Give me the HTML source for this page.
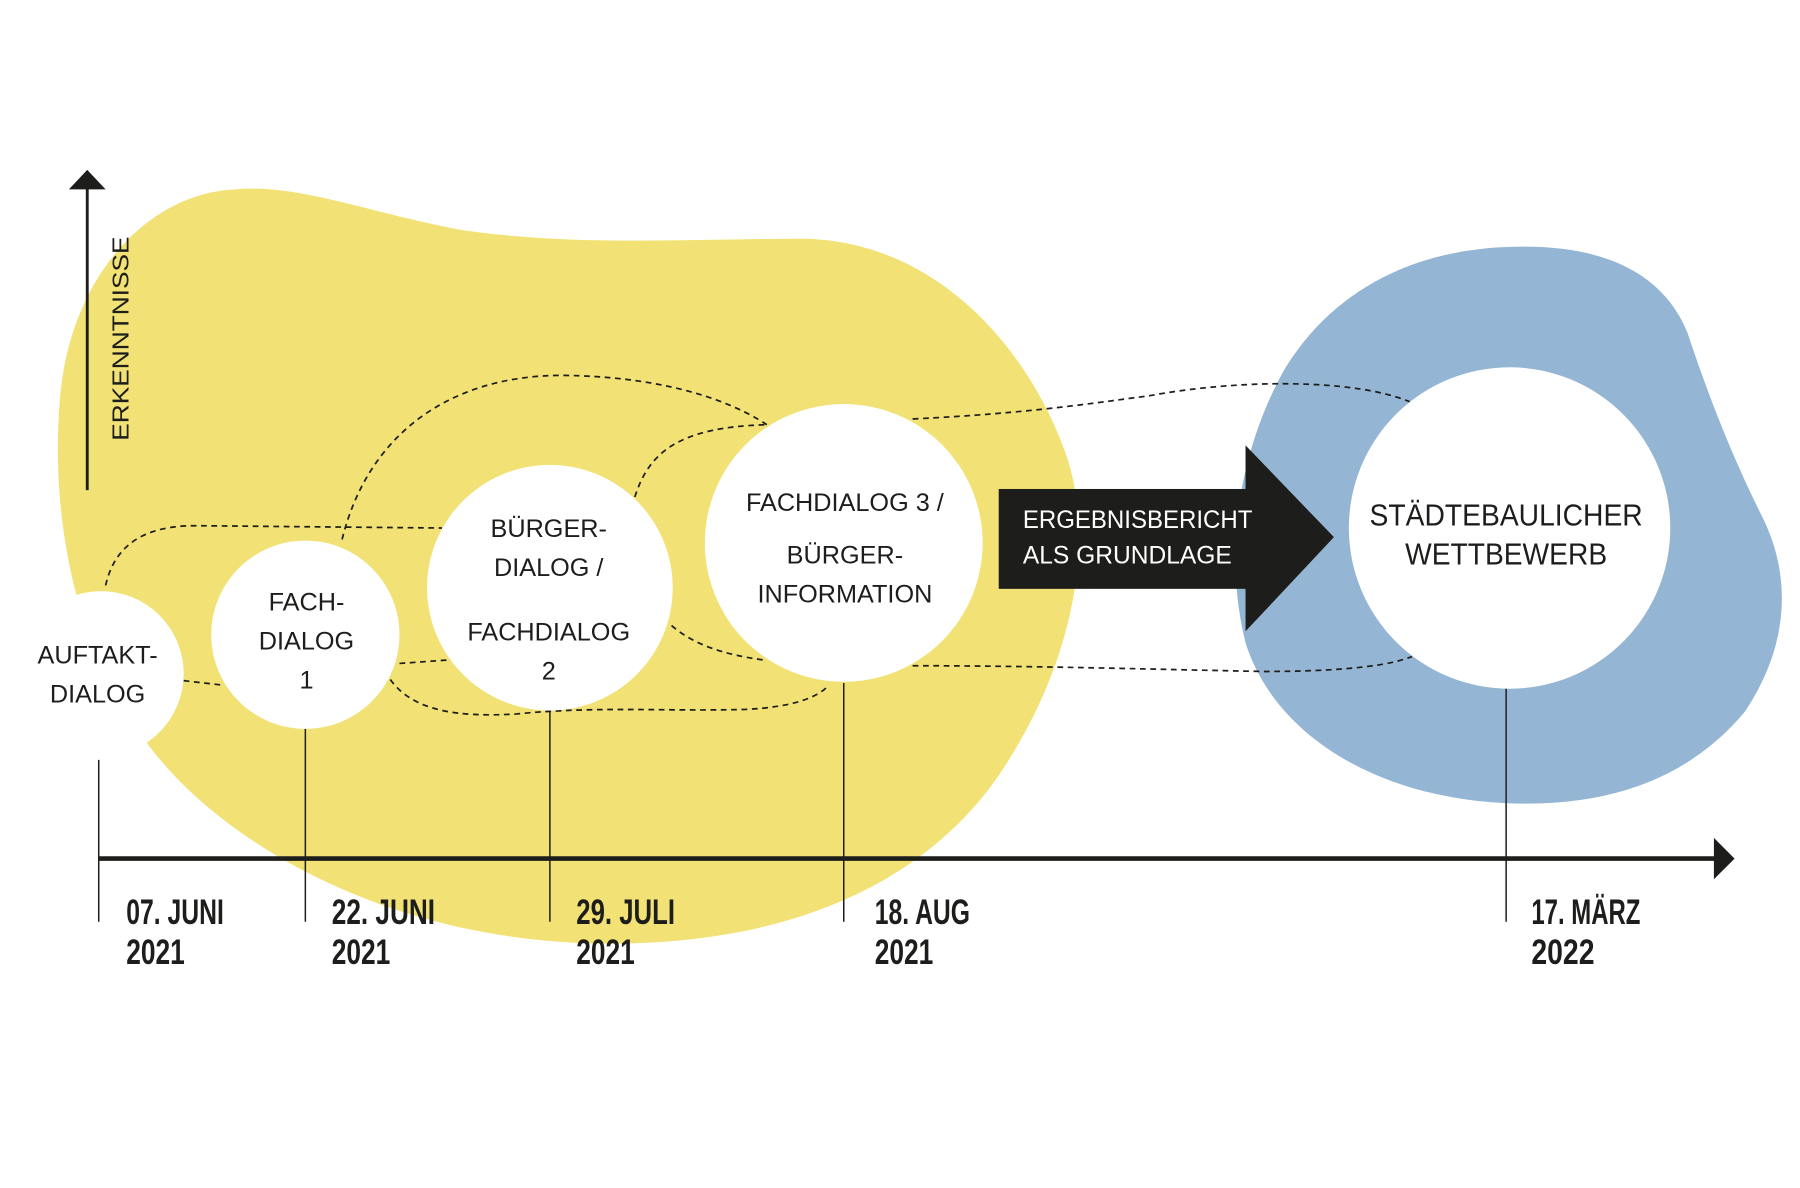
<!DOCTYPE html>
<html><head><meta charset="utf-8"><style>
html,body{margin:0;padding:0;background:#fff;}
svg{display:block}
text{font-family:"Liberation Sans Narrow","Liberation Sans",sans-serif;fill:#1d1d1b}
</style></head><body>
<svg width="1800" height="1188" viewBox="0 0 1568 1035" preserveAspectRatio="none" xmlns="http://www.w3.org/2000/svg">
<rect width="1568" height="1035" fill="#fff"/>
<path d="M205,165 C260,160 320,185 400,200 C500,215 600,208 700,208 C820,210 900,310 930,400 C955,480 930,580 880,660 C820,760 700,825 520,822 C330,818 190,730 130,650 C60,560 45,440 52,350 C60,240 130,168 205,165 Z" fill="#f2e174"/>
<path d="M1320,215 C1400,213 1450,240 1470,290 C1490,350 1510,400 1535,450 C1560,500 1560,560 1520,620 C1470,680 1400,702 1320,700 C1200,697 1110,640 1085,560 C1065,480 1080,390 1120,320 C1170,240 1250,216 1320,215 Z" fill="#94b6d4"/>
<g fill="none" stroke="#1d1d1b" stroke-width="1.5" stroke-dasharray="5,4">
<path d="M92,510 C100,475 125,458 170,458 L385,460"/>
<path d="M160,593 L195,597"/>
<path d="M348,578 L390,575"/>
<path d="M340,592 C360,620 400,625 450,622 C520,615 580,620 650,618 C690,616 712,608 722,597"/>
<path d="M298,470 C320,380 390,327 490,327 C570,328 630,345 668,370"/>
<path d="M553,433 C565,395 590,372 668,370"/>
<path d="M585,545 C605,562 630,570 665,575"/>
<path d="M795,365 C900,360 960,350 1000,345 C1080,330 1180,330 1228,350"/>
<path d="M795,580 C900,580 1000,583 1100,585 C1170,585 1210,580 1230,572"/>
</g>
<g fill="#fff">
<circle cx="88" cy="587" r="72"/>
<circle cx="266" cy="553" r="82"/>
<circle cx="479" cy="512" r="107"/>
<circle cx="735" cy="473" r="121"/>
<circle cx="1315" cy="460" r="140"/>
</g>
<g stroke="#1d1d1b" stroke-width="1.3">
<line x1="86" y1="662" x2="86" y2="803"/>
<line x1="266" y1="635" x2="266" y2="803"/>
<line x1="479" y1="620" x2="479" y2="803"/>
<line x1="735" y1="595" x2="735" y2="803"/>
<line x1="1312" y1="600" x2="1312" y2="803"/>
</g>
<line x1="86" y1="748" x2="1496" y2="748" stroke="#1d1d1b" stroke-width="4"/>
<polygon points="1493,730 1511,748 1493,766" fill="#1d1d1b"/>
<line x1="76" y1="427" x2="76" y2="162" stroke="#1d1d1b" stroke-width="2.5"/>
<polygon points="60,165 76,148 92,165" fill="#1d1d1b"/>
<text x="0" y="0" font-size="20" transform="translate(112,384) rotate(-90)" textLength="178" lengthAdjust="spacingAndGlyphs" style="font-family:'Liberation Sans',sans-serif">ERKENNTNISSE</text>
<rect x="870" y="426" width="216" height="87" fill="#1d1d1b"/>
<polygon points="1085,388 1162,468 1085,550" fill="#1d1d1b"/>
<text x="891" y="460" font-size="22" style="fill:#fff" textLength="200" lengthAdjust="spacingAndGlyphs">ERGEBNISBERICHT</text>
<text x="891" y="491" font-size="22" style="fill:#fff" textLength="182" lengthAdjust="spacingAndGlyphs">ALS GRUNDLAGE</text>
<g font-size="22" text-anchor="middle">
<text x="85" y="578">AUFTAKT-</text>
<text x="85" y="612">DIALOG</text>
<text x="267" y="532">FACH-</text>
<text x="267" y="566">DIALOG</text>
<text x="267" y="600">1</text>
<text x="478" y="468">BÜRGER-</text>
<text x="478" y="502">DIALOG /</text>
<text x="478" y="558">FACHDIALOG</text>
<text x="478" y="592">2</text>
<text x="736" y="445">FACHDIALOG 3 /</text>
<text x="736" y="491">BÜRGER-</text>
<text x="736" y="525">INFORMATION</text>
<text x="1312" y="458" font-size="27" textLength="238" lengthAdjust="spacingAndGlyphs">STÄDTEBAULICHER</text>
<text x="1312" y="492" font-size="27" textLength="176" lengthAdjust="spacingAndGlyphs">WETTBEWERB</text>
</g>
<g font-size="31" font-weight="bold">
<text x="110" y="805" textLength="85" lengthAdjust="spacingAndGlyphs">07. JUNI</text>
<text x="110" y="840" textLength="51" lengthAdjust="spacingAndGlyphs">2021</text>
<text x="289" y="805" textLength="90" lengthAdjust="spacingAndGlyphs">22. JUNI</text>
<text x="289" y="840" textLength="51" lengthAdjust="spacingAndGlyphs">2021</text>
<text x="502" y="805" textLength="86" lengthAdjust="spacingAndGlyphs">29. JULI</text>
<text x="502" y="840" textLength="51" lengthAdjust="spacingAndGlyphs">2021</text>
<text x="762" y="805" textLength="83" lengthAdjust="spacingAndGlyphs">18. AUG</text>
<text x="762" y="840" textLength="51" lengthAdjust="spacingAndGlyphs">2021</text>
<text x="1334" y="805" textLength="95" lengthAdjust="spacingAndGlyphs">17. MÄRZ</text>
<text x="1334" y="840" textLength="55" lengthAdjust="spacingAndGlyphs">2022</text>
</g>
</svg>
</body></html>
